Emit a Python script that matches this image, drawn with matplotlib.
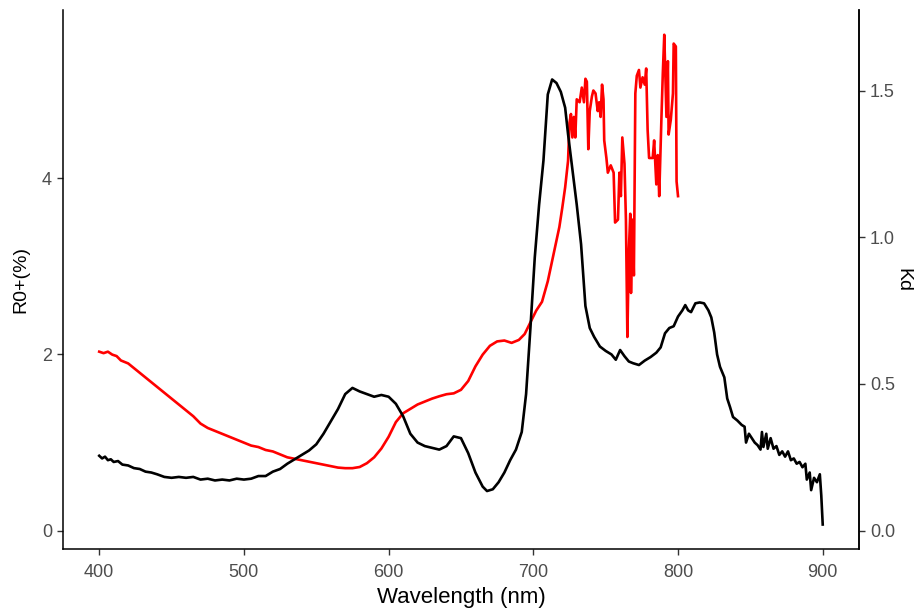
import matplotlib
matplotlib.use("Agg")
import matplotlib.pyplot as plt
import numpy as np

plt.rcParams['font.family'] = ['Liberation Sans', 'DejaVu Sans']

# Remote-sensing reflectance just above the surface, R0+ (%)
r_wl = [400, 402, 404, 406, 408, 410, 413, 416, 420, 424, 428, 432, 436, 440, 445,
        450, 455, 460, 465, 470, 475, 480, 485, 490, 495, 500, 505, 510, 515, 520,
        525, 530, 535, 540, 545, 550, 555, 560, 565, 570, 575, 580, 585, 590, 595,
        600, 605, 610, 615, 620, 625, 630, 635, 640, 645, 650, 655, 660, 665, 668,
        672, 676, 680, 684, 688, 692, 695, 698, 701, 704, 707, 710, 713, 716, 719,
        722, 724, 727, 730, 733, 736, 739, 742, 746, 750, 754, 757, 760, 763, 766,
        769, 773, 777, 781, 785, 788, 791, 794, 797, 800, 803, 805, 807, 809, 812,
        815, 818, 821, 823, 825, 827, 829, 832, 834, 836, 838, 841, 844, 846, 847,
        849, 851, 853, 855, 857, 858, 859, 861, 862, 864, 866, 868, 870, 872, 874,
        876, 878, 880, 882, 884, 886, 888, 889, 891, 892, 894, 896, 898, 899, 900]
r_val = [0.85, 0.82, 0.84, 0.80, 0.81, 0.78, 0.79, 0.75, 0.74, 0.71, 0.70, 0.67, 0.66, 0.64, 0.61,
         0.60, 0.61, 0.60, 0.61, 0.58, 0.59, 0.57, 0.58, 0.57, 0.59, 0.58, 0.59, 0.62, 0.62, 0.67,
         0.70, 0.76, 0.81, 0.86, 0.91, 0.98, 1.10, 1.24, 1.38, 1.55, 1.62, 1.58, 1.55, 1.52, 1.54,
         1.52, 1.44, 1.30, 1.10, 1.00, 0.96, 0.94, 0.92, 0.96, 1.07, 1.05, 0.88, 0.66, 0.50, 0.45,
         0.47, 0.55, 0.66, 0.80, 0.92, 1.12, 1.55, 2.30, 3.10, 3.70, 4.20, 4.95, 5.12, 5.08, 4.98,
         4.80, 4.50, 4.10, 3.70, 3.25, 2.55, 2.30, 2.20, 2.09, 2.04, 2.00, 1.94, 2.05, 1.98, 1.92,
         1.90, 1.88, 1.93, 1.97, 2.02, 2.08, 2.24, 2.30, 2.32, 2.43, 2.50, 2.56, 2.50, 2.48, 2.58,
         2.59, 2.58, 2.50, 2.42, 2.25, 2.00, 1.86, 1.74, 1.50, 1.40, 1.29, 1.25, 1.20, 1.18, 1.00,
         1.10, 1.05, 1.00, 0.97, 0.92, 1.12, 0.95, 1.10, 0.93, 1.05, 0.93, 0.96, 0.86, 0.90, 0.84,
         0.90, 0.80, 0.82, 0.76, 0.78, 0.72, 0.76, 0.58, 0.66, 0.46, 0.60, 0.55, 0.64, 0.40, 0.07]

# Diffuse attenuation coefficient, Kd
kd_wl = [400, 403, 406, 409, 412, 415, 420, 425, 430, 435, 440, 445, 450, 455, 460,
         465, 470, 475, 480, 485, 490, 495, 500, 505, 510, 515, 520, 525, 530, 535,
         540, 545, 550, 555, 560, 565, 570, 575, 580, 585, 590, 595, 600, 605, 610,
         615, 620, 625, 630, 635, 640, 645, 650, 655, 660, 665, 670, 675, 680, 685,
         690, 694, 698, 702, 706, 710, 713, 716, 718, 720, 722, 724, 725, 726, 727,
         728, 729, 730, 732, 733.5, 735, 736, 737, 738, 739, 740.5, 741.5, 743, 744.5, 745.5,
         746.5, 747.5, 748.5, 749, 750.5, 751.5, 753.5, 755.5, 756.5, 758.5, 759.5, 760.5, 761.5, 763, 764,
         765, 766, 767, 767.5, 768.5, 769.5, 770.5, 771.5, 773, 774, 775.5, 777, 778, 779, 780,
         782.5, 783.5, 785, 786, 787, 788.5, 789.5, 790.5, 792, 793, 793.5, 795, 796.5, 797, 798.5,
         799, 800]
kd_val = [0.61, 0.605, 0.61, 0.60, 0.595, 0.58, 0.57, 0.55, 0.53, 0.51, 0.49, 0.47, 0.45, 0.43, 0.41,
          0.39, 0.365, 0.35, 0.34, 0.33, 0.32, 0.31, 0.30, 0.29, 0.285, 0.275, 0.27, 0.26, 0.25, 0.245,
          0.24, 0.235, 0.23, 0.225, 0.22, 0.215, 0.213, 0.213, 0.217, 0.23, 0.25, 0.28, 0.32, 0.37, 0.40,
          0.415, 0.43, 0.44, 0.45, 0.458, 0.465, 0.468, 0.48, 0.51, 0.56, 0.60, 0.63, 0.645, 0.648, 0.64,
          0.65, 0.67, 0.71, 0.75, 0.78, 0.85, 0.92, 0.99, 1.035, 1.10, 1.17, 1.26, 1.39, 1.42, 1.34,
          1.41, 1.34, 1.47, 1.46, 1.51, 1.46, 1.54, 1.53, 1.30, 1.43, 1.48, 1.50, 1.49, 1.43, 1.46,
          1.41, 1.52, 1.47, 1.33, 1.27, 1.22, 1.245, 1.22, 1.05, 1.06, 1.22, 1.14, 1.34, 1.25, 1.06,
          0.66, 0.95, 1.08, 0.81, 1.06, 0.87, 1.49, 1.55, 1.57, 1.51, 1.545, 1.52, 1.575, 1.365, 1.27,
          1.27, 1.33, 1.18, 1.28, 1.14, 1.40, 1.56, 1.69, 1.41, 1.60, 1.35, 1.40, 1.49, 1.66, 1.65,
          1.19, 1.14]

x_ticks = [400, 500, 600, 700, 800, 900]
r_ticks = [0, 2, 4]
kd_ticks = [0.0, 0.5, 1.0, 1.5]

# Kd is drawn on the R0+ scale and read back through the secondary axis
kd_scale = 3.33

fig = plt.figure(figsize=(9.19, 6.09), dpi=100)
ax = fig.add_axes([0.0686, 0.0985, 0.866, 0.885])

ax.plot(kd_wl, np.asarray(kd_val) * kd_scale, color='#FF0000', lw=1.9, zorder=2)
ax.plot(r_wl, r_val, color='black', lw=1.9, zorder=3)

ax.set_xlim(375, 925)
ax.set_ylim(-0.208, 5.908)
ax.set_xticks(x_ticks)
ax.set_yticks(r_ticks)
ax.set_yticklabels([str(t) for t in r_ticks])

sec = ax.secondary_yaxis('right', functions=(lambda v: v / kd_scale, lambda v: v * kd_scale))
sec.set_yticks(kd_ticks)
sec.set_yticklabels([f"{t:.1f}" for t in kd_ticks])
sec.set_ylabel('Kd', fontsize=14, rotation=-90, labelpad=12)

ax.set_xlabel('Wavelength (nm)', fontsize=16, labelpad=4)
ax.set_ylabel('R0+(%)', fontsize=14, labelpad=9)

for a in (ax, sec):
    a.tick_params(axis='both', labelsize=13, labelcolor='#4D4D4D', color='#333333',
                  length=4, width=1.0)
    for s in a.spines.values():
        s.set_linewidth(1.1)
        s.set_color('black')
ax.tick_params(axis='x', pad=7)
ax.tick_params(axis='y', pad=4)
sec.tick_params(axis='y', pad=4)

ax.spines['top'].set_visible(False)
ax.spines['right'].set_visible(True)

fig.savefig('out.png', dpi=100)
